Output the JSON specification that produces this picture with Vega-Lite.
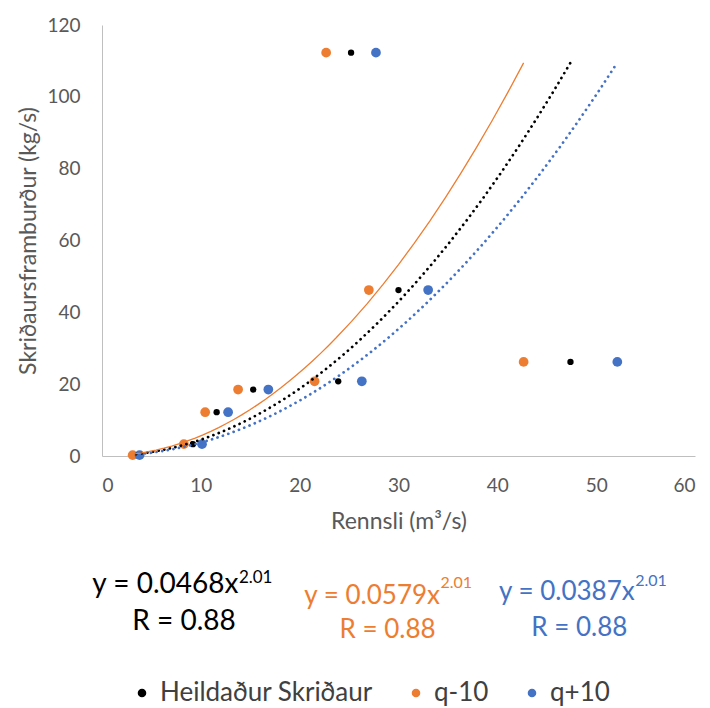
{
  "$schema": "https://vega.github.io/schema/vega-lite/v6.json",
  "width": 593,
  "height": 431,
  "autosize": {"type": "none"},
  "padding": {"left": 102, "top": 25, "right": 15, "bottom": 252},
  "background": "white",
  "config": {
    "view": {"stroke": null},
    "font": "Lato",
    "axis": {
      "grid": false, "ticks": false, "tickSize": 0,
      "domainColor": "#BFBFBF", "domainWidth": 1,
      "labelColor": "#595959", "labelFont": "Lato", "labelFontSize": 19,
      "titleColor": "#595959", "titleFont": "Lato", "titleFontSize": 23, "titleFontWeight": "normal"
    }
  },
  "datasets": {
    "pts": [
      {"series": "Heildaður Skriðaur", "Q": 3.45, "S": 0.24},
      {"series": "Heildaður Skriðaur", "Q": 9.2, "S": 3.3},
      {"series": "Heildaður Skriðaur", "Q": 11.6, "S": 12.2},
      {"series": "Heildaður Skriðaur", "Q": 15.3, "S": 18.5},
      {"series": "Heildaður Skriðaur", "Q": 23.9, "S": 20.8},
      {"series": "Heildaður Skriðaur", "Q": 25.2, "S": 112.3},
      {"series": "Heildaður Skriðaur", "Q": 30.0, "S": 46.2},
      {"series": "Heildaður Skriðaur", "Q": 47.4, "S": 26.2},
      {"series": "q-10", "Q": 3.1, "S": 0.24},
      {"series": "q-10", "Q": 8.28, "S": 3.3},
      {"series": "q-10", "Q": 10.44, "S": 12.2},
      {"series": "q-10", "Q": 13.77, "S": 18.5},
      {"series": "q-10", "Q": 21.51, "S": 20.8},
      {"series": "q-10", "Q": 22.68, "S": 112.3},
      {"series": "q-10", "Q": 27.0, "S": 46.2},
      {"series": "q-10", "Q": 42.66, "S": 26.2},
      {"series": "q+10", "Q": 3.8, "S": 0.24},
      {"series": "q+10", "Q": 10.12, "S": 3.3},
      {"series": "q+10", "Q": 12.76, "S": 12.2},
      {"series": "q+10", "Q": 16.83, "S": 18.5},
      {"series": "q+10", "Q": 26.29, "S": 20.8},
      {"series": "q+10", "Q": 27.72, "S": 112.3},
      {"series": "q+10", "Q": 33.0, "S": 46.2},
      {"series": "q+10", "Q": 52.14, "S": 26.2}
    ],
    "eq": [
      {"series": "Heildaður Skriðaur", "part": "main", "Q": 13.8, "S": -35.9, "label": "y = 0.0468x"},
      {"series": "Heildaður Skriðaur", "part": "sup", "Q": 13.85, "S": -34.0, "label": "2.01"},
      {"series": "Heildaður Skriðaur", "part": "r", "Q": 8.3, "S": -46.2, "label": "R = 0.88"},
      {"series": "q-10", "part": "main", "Q": 34.2, "S": -39.0, "label": "y = 0.0579x"},
      {"series": "q-10", "part": "sup", "Q": 34.25, "S": -35.4, "label": "2.01"},
      {"series": "q-10", "part": "r", "Q": 28.9, "S": -48.5, "label": "R = 0.88"},
      {"series": "q+10", "part": "main", "Q": 53.9, "S": -37.9, "label": "y = 0.0387x"},
      {"series": "q+10", "part": "sup", "Q": 53.95, "S": -34.8, "label": "2.01"},
      {"series": "q+10", "part": "r", "Q": 48.3, "S": -47.9, "label": "R = 0.88"}
    ]
  },
  "encoding": {
    "x": {
      "field": "Q", "type": "quantitative",
      "scale": {"domain": [0, 60], "nice": false},
      "axis": {"values": [0, 10, 20, 30, 40, 50, 60], "title": "Rennsli (m³/s)", "labelPadding": 20, "titlePadding": 15}
    },
    "y": {
      "field": "S", "type": "quantitative",
      "scale": {"domain": [0, 120], "nice": false},
      "axis": {"values": [0, 20, 40, 60, 80, 100, 120], "title": "Skriðaursframburður (kg/s)", "labelPadding": 22, "titlePadding": 6}
    }
  },
  "layer": [
    {
      "data": {"name": "pts"},
      "mark": {"type": "circle", "opacity": 1},
      "encoding": {
        "color": {
          "field": "series", "type": "nominal",
          "scale": {"domain": ["Heildaður Skriðaur", "q-10", "q+10"], "range": ["#000000", "#ED7D31", "#4472C4"]},
          "legend": {
            "orient": "none", "legendX": 27, "legendY": 655, "direction": "horizontal", "columns": 3,
            "title": null, "labelFont": "Lato", "labelFontSize": 26, "labelColor": "#404040", "labelLimit": 0,
            "symbolSize": 50, "symbolType": "circle", "labelOffset": 5, "columnPadding": 30
          }
        },
        "size": {"condition": {"test": "datum.series === 'Heildaður Skriðaur'", "value": 40}, "value": 95}
      }
    },
    {
      "data": {"name": "pts"},
      "transform": [
        {"filter": "datum.series !== 'q-10'"},
        {"regression": "S", "on": "Q", "method": "pow", "groupby": ["series"]}
      ],
      "mark": {"type": "line", "strokeWidth": 2.7, "strokeDash": [0.1, 5.6], "strokeCap": "round"},
      "encoding": {
        "color": {"field": "series", "type": "nominal", "legend": null}
      }
    },
    {
      "data": {"name": "pts"},
      "transform": [
        {"filter": "datum.series === 'q-10'"},
        {"regression": "S", "on": "Q", "method": "pow", "groupby": ["series"]}
      ],
      "mark": {"type": "line", "strokeWidth": 1.3},
      "encoding": {
        "color": {"field": "series", "type": "nominal", "legend": null}
      }
    },
    {
      "data": {"name": "eq"},
      "transform": [{"filter": "datum.part === 'main'"}],
      "mark": {"type": "text", "align": "right", "baseline": "middle", "font": "Lato"},
      "encoding": {
        "text": {"field": "label"},
        "color": {"field": "series", "type": "nominal", "legend": null},
        "size": {"condition": {"test": "datum.series === 'Heildaður Skriðaur'", "value": 28}, "value": 26}
      }
    },
    {
      "data": {"name": "eq"},
      "transform": [{"filter": "datum.part === 'sup'"}],
      "mark": {"type": "text", "align": "left", "baseline": "middle", "font": "Lato"},
      "encoding": {
        "text": {"field": "label"},
        "color": {"field": "series", "type": "nominal", "legend": null},
        "size": {"condition": {"test": "datum.series === 'Heildaður Skriðaur'", "value": 17}, "value": 16}
      }
    },
    {
      "data": {"name": "eq"},
      "transform": [{"filter": "datum.part === 'r'"}],
      "mark": {"type": "text", "align": "center", "baseline": "middle", "font": "Lato"},
      "encoding": {
        "text": {"field": "label"},
        "color": {"field": "series", "type": "nominal", "legend": null},
        "size": {"condition": {"test": "datum.series === 'Heildaður Skriðaur'", "value": 28}, "value": 26}
      }
    }
  ]
}
